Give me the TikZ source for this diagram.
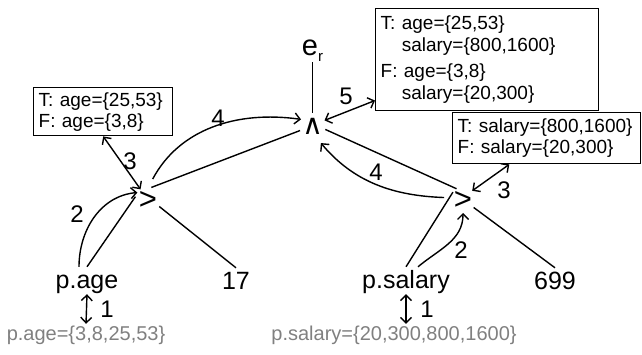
\documentclass[tikz,border=0pt]{standalone}
\usepackage{fontspec}
\setmainfont{Liberation Sans}
\newfontfamily\djv{DejaVu Sans}
\usetikzlibrary{arrows.meta}
\tikzset{
  lbl/.style={font=\fontsize{25}{30}\selectfont, inner xsep=0pt, inner ysep=1pt, text height=20pt, text depth=5pt, anchor=base},
  num/.style={font=\fontsize{24}{28}\selectfont, inner sep=0pt},
  opnode/.style={circle, inner sep=0pt, minimum size=24pt},
  boxnode/.style={draw, line width=1.4pt, align=left, anchor=north west, inner xsep=5pt, inner ysep=0pt,
    font=\fontsize{19}{21}\selectfont},
  graytxt/.style={text=black!50, font=\fontsize{20}{24}\selectfont, inner xsep=0pt, inner ysep=1pt, text height=15pt, text depth=5pt, anchor=base},
  con/.style={line width=1.4pt},
  arr/.style={con, -{Straight Barb[length=5.5pt,width=11pt,line width=1.4pt]}},
  darr/.style={con, {Straight Barb[length=5.5pt,width=11pt,line width=1.4pt]}-{Straight Barb[length=5.5pt,width=11pt,line width=1.4pt]}},
}
\begin{document}
\begin{tikzpicture}[x=1pt,y=1pt]
\useasboundingbox (0,0) rectangle (642,354);
% operators
\node[opnode, font=\djv\fontsize{28}{30}\selectfont] (and) at (312.5,228) {∧};
\node[opnode, font=\fontsize{31}{34}\selectfont] (gl) at (148,154) {>};
\node[opnode, font=\fontsize{31}{34}\selectfont] (gr) at (463,154) {>};
\node[font=\fontsize{29}{30}\selectfont, inner sep=0pt] (er) at (310,306) {e};
\node[font=\fontsize{15}{16}\selectfont, inner sep=0pt] (ersub) at (320.5,296.5) {r};
% leaves
\node[lbl] (pa) at (87,66) {p.age};
\node[lbl] (n17) at (236,65) {17};
\node[lbl] (ps) at (406,66) {p.salary};
\node[lbl] (n699) at (555,65) {699};
\node[graytxt] (pav) at (86,14) {p.age=\{3,8,25,53\}};
\node[graytxt] (psv) at (394,14) {p.salary=\{20,300,800,1600\}};
% boxes
\node[boxnode, text width=129pt, minimum height=48pt] (boxL) at (33,267)
  {T: age=\{25,53\}\\F: age=\{3,8\}};
\node[boxnode, text width=213pt, minimum height=102pt, font=\fontsize{19}{22}\selectfont] (boxT) at (375,346)
  {T: age=\{25,53\}\\\hphantom{T: }salary=\{800,1600\}\\[4pt]F: age=\{3,8\}\\\hphantom{T: }salary=\{20,300\}};
\node[boxnode, text width=178pt, minimum height=51pt] (boxR) at (452,242)
  {T: salary=\{800,1600\}\\F: salary=\{20,300\}};
% numbers
\node[num] (l1a) at (107,45) {1};
\node[num] (l1b) at (427,45) {1};
\node[num] (l2a) at (77,140) {2};
\node[num] (l2b) at (461,104) {2};
\node[num] (l3a) at (130,193) {3};
\node[num] (l3b) at (504,164) {3};
\node[num] (l4a) at (218,236) {4};
\node[num] (l4b) at (376,182) {4};
\node[num] (l5) at (346,258) {5};
% connectors
\draw[con, shorten <=6pt] (er.south -| and.north) -- (and.north);
\draw[con] (pa.north) -- (gl.165);
\draw[arr] ([xshift=-8pt]pa.north) to[out=90, in=185] (gl.145);
\draw[darr] (boxL.south) -- (gl.125);
\draw[con] (gl.75) -- (and.200);
\draw[arr, shorten <=9pt] (gl.88) to[out=62, in=172] (and.150);
\draw[con] (gl.-30) -- (n17.north);
\draw[darr] (and.25) -- (boxT.200);
\draw[con] (and.-15) -- (gr.120);
\draw[arr, shorten <=6pt, shorten >=6pt] (gr.170) to[out=178, in=-50] (and.-70);
\draw[darr] (boxR.215) -- (gr.45);
\draw[con] (gr.-35) -- (n699.north);
\draw[con, shorten >=-4pt] (ps.north) -- (gr.160);
\draw[arr] ([xshift=12pt]ps.north) to[out=40, in=-90] (gr.-90);
\draw[darr] (pa.south) -- (pav.north);
\draw[darr] (ps.south) -- (psv.north -| ps.south);
\end{tikzpicture}
\end{document}
